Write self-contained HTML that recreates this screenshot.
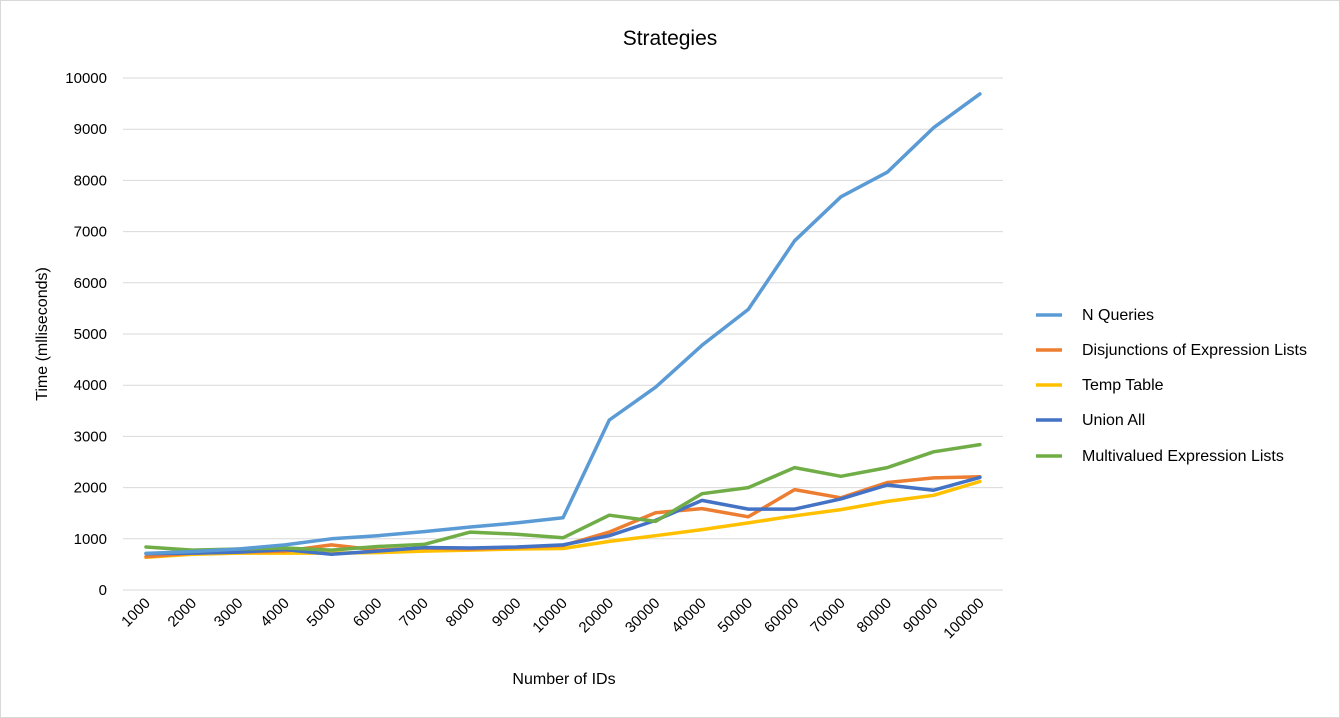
<!DOCTYPE html>
<html><head><meta charset="utf-8"><style>
html,body{margin:0;padding:0;background:#fff}
svg{display:block;font-family:"Liberation Sans",Calibri,sans-serif}
</style></head><body>
<svg id="c" width="1340" height="718" viewBox="0 0 1340 718">
<rect x="0.5" y="0.5" width="1339" height="717" fill="#fff" stroke="#d9d9d9"/>
<text x="670" y="45" font-size="21" text-anchor="middle" fill="#000">Strategies</text>
<g id="grid"></g>
<g id="ylab" font-size="15" fill="#000" text-anchor="end"></g>
<g id="xlab" font-size="15" fill="#000" text-anchor="end"></g>
<g id="series" fill="none" stroke-width="3.5" stroke-linejoin="round" stroke-linecap="round"></g>
<text x="564" y="684" font-size="16" text-anchor="middle">Number of IDs</text>
<text transform="translate(47,334) rotate(-90)" font-size="16" text-anchor="middle">Time (mlliseconds)</text>
<g font-size="16">
<line x1="1036" y1="315" x2="1062" y2="315" stroke="#5b9bd5" stroke-width="3.5"/><text x="1082" y="320">N Queries</text>
<line x1="1036" y1="350" x2="1062" y2="350" stroke="#ed7d31" stroke-width="3.5"/><text x="1082" y="355">Disjunctions of Expression Lists</text>
<line x1="1036" y1="385" x2="1062" y2="385" stroke="#ffc000" stroke-width="3.5"/><text x="1082" y="390">Temp Table</text>
<line x1="1036" y1="420" x2="1062" y2="420" stroke="#4472c4" stroke-width="3.5"/><text x="1082" y="425">Union All</text>
<line x1="1036" y1="456" x2="1062" y2="456" stroke="#70ad47" stroke-width="3.5"/><text x="1082" y="461">Multivalued Expression Lists</text>
</g>
</svg>
<script>
var ns="http://www.w3.org/2000/svg";
function el(p,t,a,txt){var e=document.createElementNS(ns,t);for(var k in a)e.setAttribute(k,a[k]);if(txt!=null)e.textContent=txt;document.getElementById(p).appendChild(e);}
function Y(v){return 590-v*0.0512;}
function X(i){return 146+i*46.33;}
for(var v=0;v<=10000;v+=1000){el("grid","line",{x1:123,x2:1003,y1:Y(v),y2:Y(v),stroke:"#d9d9d9","stroke-width":1});el("ylab","text",{x:107,y:Y(v)+5},v);}
var cats=[1000,2000,3000,4000,5000,6000,7000,8000,9000,10000,20000,30000,40000,50000,60000,70000,80000,90000,100000];
cats.forEach(function(c,i){var x=X(i)+5,y=604;el("xlab","text",{x:x,y:y,transform:"rotate(-45 "+x+" "+y+")"},c);});
var S=[
["#ffc000",[640,700,720,720,720,730,760,780,800,810,950,1060,1180,1310,1450,1570,1730,1850,2120]],
["#ed7d31",[650,720,740,760,880,780,820,800,830,870,1130,1510,1590,1430,1960,1800,2100,2190,2210]],
["#4472c4",[710,720,740,790,700,760,830,820,840,880,1060,1360,1750,1580,1580,1780,2050,1950,2200]],
["#70ad47",[840,780,800,820,780,850,890,1130,1090,1020,1460,1340,1880,2000,2390,2220,2390,2700,2840]],
["#5b9bd5",[715,750,800,880,1000,1060,1140,1230,1310,1410,3320,3960,4780,5480,6820,7680,8160,9030,9690]]];
S.forEach(function(s){el("series","polyline",{stroke:s[0],points:s[1].map(function(v,i){return X(i).toFixed(1)+","+Y(v).toFixed(1)}).join(" ")});});
</script>
</body></html>
